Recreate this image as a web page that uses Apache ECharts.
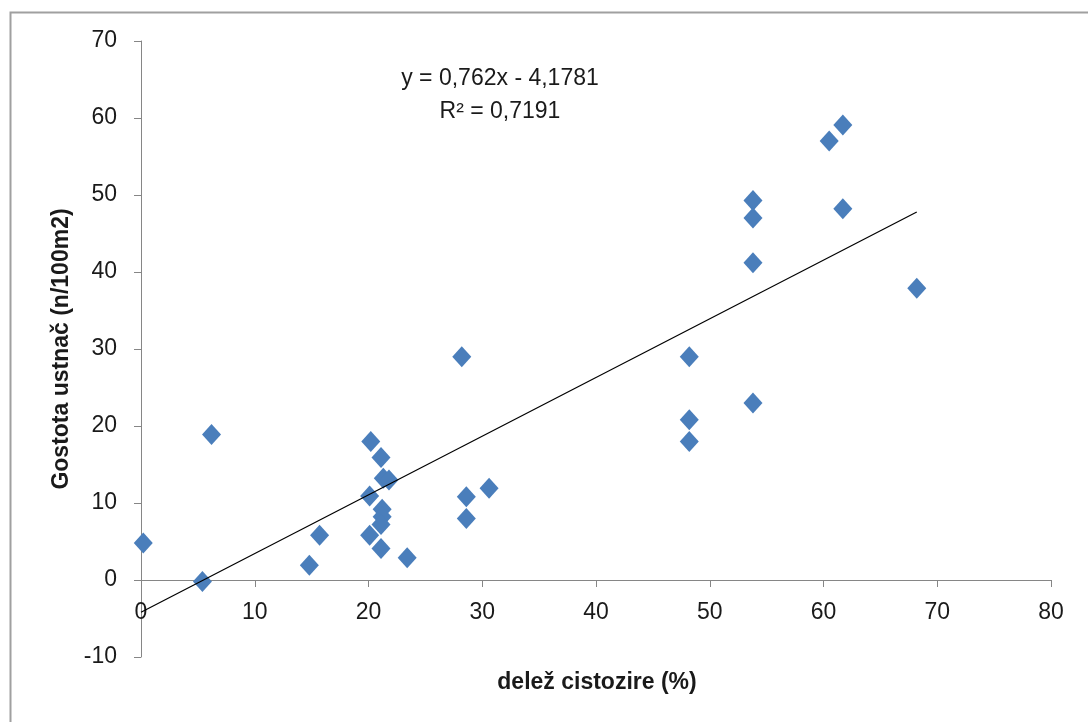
<!DOCTYPE html>
<html>
<head>
<meta charset="utf-8">
<script src="https://cdn.jsdelivr.net/npm/echarts@6/dist/echarts.min.js"></script>
<style>
html,body{margin:0;padding:0;background:#fff;}
#chart{width:1088px;height:722px;}
</style>
</head>
<body>
<div id="chart"></div>
<script>
const xValues = [0.2, 5.4, 6.2, 14.8, 15.7, 20.2, 20.1, 20.1, 21.1, 21.3, 21.8, 21.2, 21.2, 21.1, 21.1, 23.4, 28.2, 28.6, 28.6, 30.6, 48.2, 48.2, 48.2, 53.8, 53.8, 53.8, 53.8, 60.5, 61.7, 61.7, 68.2];
const yValues = [4.8, -0.2, 18.9, 1.9, 5.8, 18, 10.9, 5.8, 15.9, 13.2, 13, 9.2, 8.2, 7.2, 4.1, 2.9, 29, 10.8, 8, 11.9, 29, 20.8, 18, 49.3, 47, 41.2, 23, 57, 59.1, 48.2, 37.9];
// Linear trendline endpoints (y = 0,762x - 4,1781)
const trendX = [0, 68.2];
const trendY = [-4.18, 47.79];
const xTicks = [0, 10, 20, 30, 40, 50, 60, 70, 80];
const yTicks = [-10, 0, 10, 20, 30, 40, 50, 60, 70];
const xTitle = 'delež cistozire (%)';
const yTitle = 'Gostota ustnač (n/100m2)';
const eqLine1 = 'y = 0,762x - 4,1781';
const eqLine2 = 'R² = 0,7191';

const points = xValues.map((x, i) => [x, yValues[i]]);
const trend = trendX.map((x, i) => [x, trendY[i]]);

const chart = echarts.init(document.getElementById('chart'));
const axisColor = '#868686';
const labelFont = "'Liberation Sans', sans-serif";
const gridTop = 41, gridBottom = 65, H = 722;
const plotH = H - gridTop - gridBottom;
// pixel distance from bottom of grid to the y=0 line
const zeroOffset = plotH * (0 - yTicks[0]) / (yTicks[yTicks.length - 1] - yTicks[0]);
chart.setOption({
  animation: false,
  backgroundColor: '#ffffff',
  grid: { left: 141, right: 37, top: gridTop, bottom: gridBottom },
  xAxis: {
    type: 'value', min: xTicks[0], max: xTicks[xTicks.length - 1], interval: 10,
    offset: -zeroOffset,
    axisLine: { onZero: false, lineStyle: { color: axisColor, width: 1 } },
    axisTick: { show: true, length: 7, lineStyle: { color: axisColor } },
    splitLine: { show: false },
    axisLabel: { color: '#1a1a1a', fontSize: 23, fontFamily: labelFont, margin: 21 }
  },
  yAxis: {
    type: 'value', min: yTicks[0], max: yTicks[yTicks.length - 1], interval: 10,
    axisLine: { show: true, onZero: false, lineStyle: { color: axisColor, width: 1 } },
    axisTick: { show: true, length: 7, lineStyle: { color: axisColor } },
    splitLine: { show: false },
    axisLabel: { color: '#1a1a1a', fontSize: 23, fontFamily: labelFont, margin: 24 },
    name: yTitle, nameLocation: 'middle', nameGap: 66, nameRotate: 90,
    nameTextStyle: { color: '#1a1a1a', fontSize: 23, fontWeight: 'bold', fontFamily: labelFont }
  },
  graphic: [
    { type: 'rect', left: 8, top: 10, shape: { width: 1200, height: 900 }, style: { fill: 'none', stroke: '#a0a0a0', lineWidth: 2 }, silent: true },
    { type: 'text', x: 597, y: 683, style: { text: xTitle, fill: '#1a1a1a', align: 'center', verticalAlign: 'middle', font: "bold 23px 'Liberation Sans', sans-serif" } },
    { type: 'text', x: 500, y: 95, style: { text: eqLine1 + '\n' + eqLine2, fill: '#1a1a1a', align: 'center', verticalAlign: 'middle', font: "23px 'Liberation Sans', sans-serif", lineHeight: 33 } }
  ],
  series: [
    {
      type: 'scatter', data: points, symbol: 'diamond', symbolSize: [19, 21],
      itemStyle: { color: '#4A7EBB', opacity: 1 }, z: 3
    },
    {
      type: 'line', data: trend, showSymbol: false, symbol: 'none',
      lineStyle: { color: '#000', width: 1.2 }, z: 4
    }
  ]
});
</script>
</body>
</html>
